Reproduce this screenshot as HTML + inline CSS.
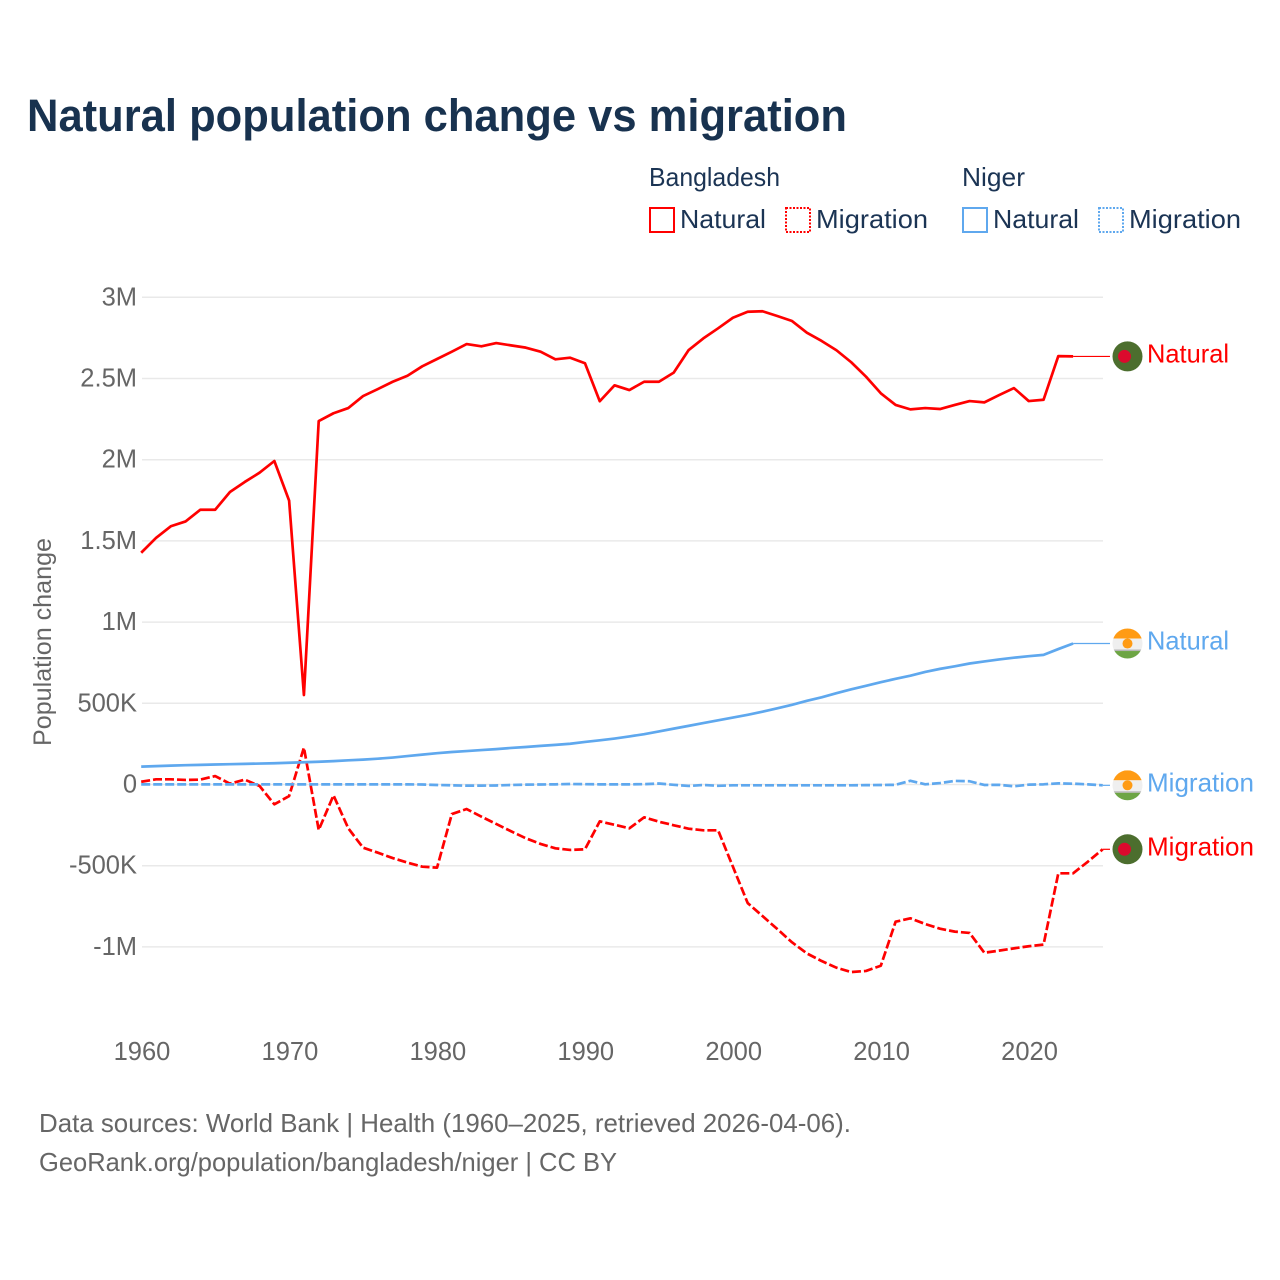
<!DOCTYPE html>
<html lang="en">
<head>
<meta charset="utf-8">
<title>Natural population change vs migration</title>
<style>
html,body{margin:0;padding:0;background:#fff;width:1280px;height:1280px;overflow:hidden}
svg{display:block}
text{font-family:"Liberation Sans",sans-serif}
</style>
</head>
<body>
<svg id="chart" width="1280" height="1280" viewBox="0 0 1280 1280" xmlns="http://www.w3.org/2000/svg">
<rect width="1280" height="1280" fill="#fff"/>
<text x="27" y="131" font-size="45" font-weight="700" fill="#18324f" textLength="820" lengthAdjust="spacingAndGlyphs">Natural population change vs migration</text>

<g font-size="26" fill="#1b3454">
<text x="649" y="186" textLength="131" lengthAdjust="spacingAndGlyphs">Bangladesh</text>
<text x="962" y="186" textLength="63" lengthAdjust="spacingAndGlyphs">Niger</text>
<rect x="650" y="208" width="24" height="24" fill="none" stroke="#ff0000" stroke-width="2"/>
<text x="680" y="228" textLength="86" lengthAdjust="spacingAndGlyphs">Natural</text>
<rect x="786" y="208" width="24" height="24" fill="none" stroke="#ff0000" stroke-width="2" stroke-dasharray="2 1.5"/>
<text x="816" y="228" textLength="112" lengthAdjust="spacingAndGlyphs">Migration</text>
<rect x="963" y="208" width="24" height="24" fill="none" stroke="#5fa8ee" stroke-width="2"/>
<text x="993" y="228" textLength="86" lengthAdjust="spacingAndGlyphs">Natural</text>
<rect x="1099" y="208" width="24" height="24" fill="none" stroke="#5fa8ee" stroke-width="2" stroke-dasharray="2 1.5"/>
<text x="1129" y="228" textLength="112" lengthAdjust="spacingAndGlyphs">Migration</text>
</g>

<g id="grid"></g>
<g id="yticks" font-size="25.5" fill="#666"></g>
<g id="xticks" font-size="25.5" fill="#666"></g>
<text transform="translate(51 746) rotate(-90)" font-size="25" fill="#666" textLength="208" lengthAdjust="spacingAndGlyphs">Population change</text>
<g id="series"></g>
<g id="ends"></g>

<g font-size="26" fill="#666">
<text x="39" y="1132" textLength="812" lengthAdjust="spacingAndGlyphs">Data sources: World Bank | Health (1960–2025, retrieved 2026-04-06).</text>
<text x="39" y="1171" textLength="578" lengthAdjust="spacingAndGlyphs">GeoRank.org/population/bangladesh/niger | CC BY</text>
</g>
</svg>
<script>
const years = [1960,1961,1962,1963,1964,1965,1966,1967,1968,1969,1970,1971,1972,1973,1974,1975,1976,1977,1978,1979,1980,1981,1982,1983,1984,1985,1986,1987,1988,1989,1990,1991,1992,1993,1994,1995,1996,1997,1998,1999,2000,2001,2002,2003,2004,2005,2006,2007,2008,2009,2010,2011,2012,2013,2014,2015,2016,2017,2018,2019,2020,2021,2022,2023,2024,2025];
const bangladeshNatural = [1427,1518,1590,1620,1692,1692,1801,1863,1920,1992,1748,551,2238,2286,2318,2392,2435,2480,2517,2575,2620,2665,2712,2698,2718,2704,2690,2665,2618,2628,2594,2360,2458,2429,2480,2480,2536,2674,2747,2809,2874,2911,2914,2885,2854,2782,2731,2674,2600,2511,2409,2337,2310,2318,2312,2337,2361,2353,2398,2441,2361,2369,2638,2636];
const bangladeshMigration = [17,32,32,28,30,52,5,30,-9,-122,-71,227,-280,-67,-270,-389,-420,-453,-481,-506,-512,-182,-151,-198,-243,-288,-331,-366,-393,-403,-399,-227,-248,-270,-202,-229,-251,-272,-282,-282,-506,-730,-810,-890,-972,-1040,-1087,-1128,-1155,-1148,-1116,-845,-824,-859,-888,-906,-914,-1036,-1023,-1009,-996,-986,-547,-547,-475,-399];
const nigerNatural = [110,113,116,119,121,123,125,127,129,131,134,137,140,144,149,153,159,166,175,184,193,200,206,212,218,225,231,238,244,251,262,272,283,296,310,327,344,361,378,395,412,429,448,469,491,515,537,562,586,608,630,651,670,693,712,728,745,758,770,781,790,798,834,868];
const nigerMigration = [1,1,1,1,1,1,1,1,1,1,1,1,1,1,1,1,1,1,1,0,-3,-5,-7,-7,-6,-3,-1,0,1,3,2,1,1,1,2,6,-2,-9,-3,-8,-5,-5,-5,-5,-5,-5,-5,-5,-5,-4,-3,-2,23,1,9,22,20,-3,-2,-11,-1,1,7,5,1,-5];
const yTickValues = [3000,2500,2000,1500,1000,500,0,-500,-1000];
const yTickLabels = ['3M','2.5M','2M','1.5M','1M','500K','0','-500K','-1M'];
const xTickValues = [1960,1970,1980,1990,2000,2010,2020];

const NS = 'http://www.w3.org/2000/svg';
function xScale(year){ return 141.2 + (year - 1960) * (1102.7 - 141.2) / 65; }
function yScale(v){ return 784.5 - v * 0.1624; }
function make(tag, attrs, parent, txt){
  const el = document.createElementNS(NS, tag);
  for (const k in attrs) el.setAttribute(k, attrs[k]);
  if (txt !== undefined) el.textContent = txt;
  parent.appendChild(el);
  return el;
}
const gridG = document.getElementById('grid');
const yG = document.getElementById('yticks');
const xG = document.getElementById('xticks');
const seriesG = document.getElementById('series');
const endsG = document.getElementById('ends');

yTickValues.forEach(function(v, i){
  const ln = make('line', {x1:142, x2:1103, y1:yScale(v), y2:yScale(v), stroke:'#e9e9e9', 'stroke-width':1.5}, gridG);
  
  
  const t = make('text', {x:137, y:yScale(v)+8, 'text-anchor':'end'}, yG, yTickLabels[i]);
  
  
});
xTickValues.forEach(function(yr){
  const t = make('text', {x:xScale(yr)+0.8, y:1060, 'text-anchor':'middle'}, xG, String(yr));
  
  
});

function drawSeries(values, color, dashed){
  const d = values.map(function(v, i){
    return (i ? 'L' : 'M') + xScale(years[i]).toFixed(2) + ' ' + yScale(v).toFixed(2);
  }).join(' ');
  const attrs = {d:d, fill:'none', stroke:color, 'stroke-width':2.7, 'stroke-linejoin':'round'};
  if (dashed) attrs['stroke-dasharray'] = '9 3';
  const p = make('path', attrs, seriesG);
  
  
}
function drawFlag(kind, cx, cy){
  const g = make('g', {}, endsG);
  
  
  if (kind === 'bd') {
    make('circle', {cx:cx, cy:cy, r:15, fill:'#4c6e2e'}, g);
    make('circle', {cx:cx-3, cy:cy, r:6.5, fill:'#dc0a2d'}, g);
  } else {
    const id = 'clip' + Math.round(cy);
    const cp = make('clipPath', {id:id}, g);
    make('circle', {cx:cx, cy:cy, r:15}, cp);
    const f = make('g', {'clip-path':'url(#' + id + ')'}, g);
    make('rect', {x:cx-15, y:cy-15, width:30, height:10, fill:'#ff9b14'}, f);
    make('rect', {x:cx-15, y:cy-5, width:30, height:12, fill:'#efefef'}, f);
    make('rect', {x:cx-15, y:cy+6, width:30, height:1.5, fill:'#b5b5b5'}, f);
    make('rect', {x:cx-15, y:cy+7.5, width:30, height:8, fill:'#6da544'}, f);
    make('circle', {cx:cx, cy:cy, r:5, fill:'#ff9b14'}, f);
  }
}
function drawEnd(values, color, kind, label, width){
  const i = values.length - 1;
  const y = yScale(values[i]);
  const ln = make('line', {x1:xScale(years[i]), x2:1110, y1:y, y2:y, stroke:color, 'stroke-width':1.2}, endsG);
  
  
  drawFlag(kind, 1127.5, y);
  const t = make('text', {x:1147, y:y+6, 'font-size':26, fill:color, textLength:width, lengthAdjust:'spacingAndGlyphs'}, endsG, label);
  
  
}
drawSeries(bangladeshNatural, '#ff0000', false);
drawSeries(bangladeshMigration, '#ff0000', true);
drawSeries(nigerNatural, '#5fa8ee', false);
drawSeries(nigerMigration, '#5fa8ee', true);
drawEnd(bangladeshNatural, '#ff0000', 'bd', 'Natural', 82);
drawEnd(bangladeshMigration, '#ff0000', 'bd', 'Migration', 107);
drawEnd(nigerNatural, '#5fa8ee', 'ne', 'Natural', 82);
drawEnd(nigerMigration, '#5fa8ee', 'ne', 'Migration', 107);
</script>
</body>
</html>
